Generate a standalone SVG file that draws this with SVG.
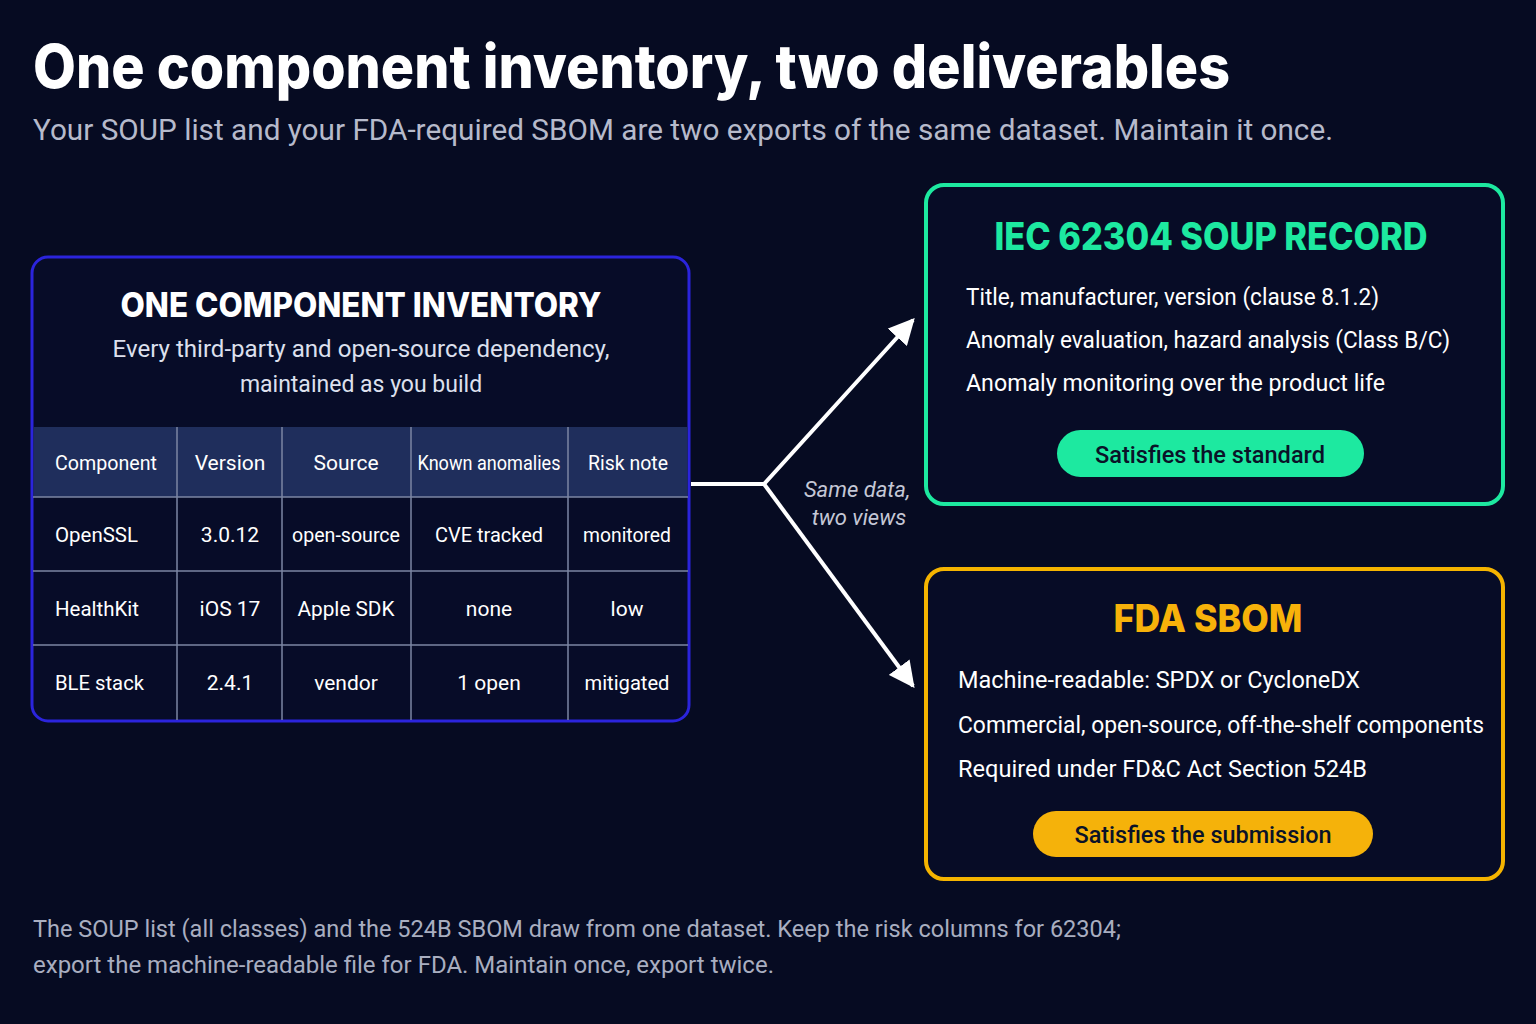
<svg xmlns="http://www.w3.org/2000/svg" width="1536" height="1024" viewBox="0 0 1536 1024">
<defs>
<style>
.t{font-family:Roboto,"Liberation Sans",sans-serif;}
.b{font-family:Inter,"Noto Sans",sans-serif;font-weight:800;}
.cell{font-family:Roboto,"Liberation Sans",sans-serif;font-size:21px;fill:#ffffff;}
.c{text-anchor:middle;}
.grid{stroke:#7d86a3;stroke-width:1.5;}
.conn{stroke:#ffffff;stroke-width:4;fill:none;}
.item{font-family:Roboto,"Liberation Sans",sans-serif;font-size:24px;fill:#ffffff;}
</style>
<marker id="ah" viewBox="0 0 10 10" refX="9" refY="5" markerWidth="6.5" markerHeight="6.5" markerUnits="strokeWidth" orient="auto">
<path d="M0,0 L10,5 L0,10 z" fill="#ffffff"/>
</marker>
</defs>
<rect width="1536" height="1024" fill="#060b22"/>
<g id="header">
<text class="b" x="33" y="88" font-size="60" fill="#ffffff" textLength="1197" lengthAdjust="spacingAndGlyphs">One component inventory, two deliverables</text>
<text class="t" x="33" y="140" font-size="30" fill="#b6bacb" textLength="1300" lengthAdjust="spacingAndGlyphs">Your SOUP list and your FDA-required SBOM are two exports of the same dataset. Maintain it once.</text>
</g>
<g id="inventory">
<rect x="32" y="257" width="657" height="464" rx="16" fill="#070c28" stroke="#2b24dc" stroke-width="3"/>
<text class="b c" x="361" y="317" font-size="34" fill="#ffffff" textLength="481" lengthAdjust="spacingAndGlyphs">ONE COMPONENT INVENTORY</text>
<text class="t c" x="361" y="357" font-size="23" fill="#dde0ee" textLength="497" lengthAdjust="spacingAndGlyphs">Every third-party and open-source dependency,</text>
<text class="t c" x="361" y="392" font-size="23" fill="#dde0ee">maintained as you build</text>
<rect x="33.5" y="427" width="654" height="70" fill="#1f2e5c"/>
<g class="grid">
<line x1="33" y1="497" x2="688" y2="497"/>
<line x1="33" y1="571" x2="688" y2="571"/>
<line x1="33" y1="645" x2="688" y2="645"/>
<line x1="177" y1="427" x2="177" y2="720"/>
<line x1="282" y1="427" x2="282" y2="720"/>
<line x1="411" y1="427" x2="411" y2="720"/>
<line x1="568" y1="427" x2="568" y2="720"/>
</g>
<text class="cell" x="55" y="470" textLength="102" lengthAdjust="spacingAndGlyphs">Component</text>
<text class="cell c" x="230" y="470">Version</text>
<text class="cell c" x="346" y="470">Source</text>
<text class="cell c" x="489" y="470" textLength="143" lengthAdjust="spacingAndGlyphs">Known anomalies</text>
<text class="cell c" x="628" y="470" textLength="80" lengthAdjust="spacingAndGlyphs">Risk note</text>
<text class="cell" x="55" y="542" textLength="83" lengthAdjust="spacingAndGlyphs">OpenSSL</text>
<text class="cell c" x="230" y="542">3.0.12</text>
<text class="cell c" x="346" y="542" textLength="108" lengthAdjust="spacingAndGlyphs">open-source</text>
<text class="cell c" x="489" y="542" textLength="108" lengthAdjust="spacingAndGlyphs">CVE tracked</text>
<text class="cell c" x="627" y="542" textLength="88" lengthAdjust="spacingAndGlyphs">monitored</text>
<text class="cell" x="55" y="616" textLength="84" lengthAdjust="spacingAndGlyphs">HealthKit</text>
<text class="cell c" x="230" y="616">iOS 17</text>
<text class="cell c" x="346" y="616" textLength="97" lengthAdjust="spacingAndGlyphs">Apple SDK</text>
<text class="cell c" x="489" y="616">none</text>
<text class="cell c" x="627" y="616">low</text>
<text class="cell" x="55" y="690" textLength="89" lengthAdjust="spacingAndGlyphs">BLE stack</text>
<text class="cell c" x="230" y="690">2.4.1</text>
<text class="cell c" x="346" y="690">vendor</text>
<text class="cell c" x="489" y="690">1 open</text>
<text class="cell c" x="627" y="690" textLength="85" lengthAdjust="spacingAndGlyphs">mitigated</text>
</g>
<g id="connectors">
<polyline class="conn" points="691,484 764,484 913,320" marker-end="url(#ah)"/>
<polyline class="conn" points="764,484 913,686" marker-end="url(#ah)"/>
<text class="t c" x="857" y="497" font-size="22" font-style="italic" fill="#c4c7d6">Same data,</text>
<text class="t c" x="859" y="525" font-size="22" font-style="italic" fill="#c4c7d6">two views</text>
</g>
<g id="soup">
<rect x="926" y="185" width="577" height="319" rx="18" fill="#070c26" stroke="#1de9a0" stroke-width="4"/>
<text class="b c" x="1211" y="250" font-size="38" fill="#1de9a0" textLength="433" lengthAdjust="spacingAndGlyphs">IEC 62304 SOUP RECORD</text>
<text class="item" x="966" y="305" textLength="413" lengthAdjust="spacingAndGlyphs">Title, manufacturer, version (clause 8.1.2)</text>
<text class="item" x="966" y="348" textLength="484" lengthAdjust="spacingAndGlyphs">Anomaly evaluation, hazard analysis (Class B/C)</text>
<text class="item" x="966" y="391" textLength="419" lengthAdjust="spacingAndGlyphs">Anomaly monitoring over the product life</text>
<rect x="1057" y="430" width="307" height="47" rx="23.5" fill="#1de9a0"/>
<text class="t c" x="1210" y="463" font-size="24" font-weight="500" fill="#0a1228" textLength="230" lengthAdjust="spacingAndGlyphs">Satisfies the standard</text>
</g>
<g id="sbom">
<rect x="926" y="569" width="577" height="310" rx="18" fill="#070c26" stroke="#f5b400" stroke-width="4"/>
<text class="b c" x="1208" y="632" font-size="38" fill="#f7b20a" textLength="189" lengthAdjust="spacingAndGlyphs">FDA SBOM</text>
<text class="item" x="958" y="688" textLength="402" lengthAdjust="spacingAndGlyphs">Machine-readable: SPDX or CycloneDX</text>
<text class="item" x="958" y="733" textLength="526" lengthAdjust="spacingAndGlyphs">Commercial, open-source, off-the-shelf components</text>
<text class="item" x="958" y="777" textLength="409" lengthAdjust="spacingAndGlyphs">Required under FD&amp;C Act Section 524B</text>
<rect x="1033" y="811" width="340" height="46" rx="23" fill="#f5b20a"/>
<text class="t c" x="1203" y="843" font-size="24" font-weight="500" fill="#0a1228" textLength="257" lengthAdjust="spacingAndGlyphs">Satisfies the submission</text>
</g>
<g id="footer">
<text class="t" x="33" y="937" font-size="24" fill="#a9aec0" textLength="1088" lengthAdjust="spacingAndGlyphs">The SOUP list (all classes) and the 524B SBOM draw from one dataset. Keep the risk columns for 62304;</text>
<text class="t" x="33" y="973" font-size="24" fill="#a9aec0" textLength="741" lengthAdjust="spacingAndGlyphs">export the machine-readable file for FDA. Maintain once, export twice.</text>
</g>
</svg>
